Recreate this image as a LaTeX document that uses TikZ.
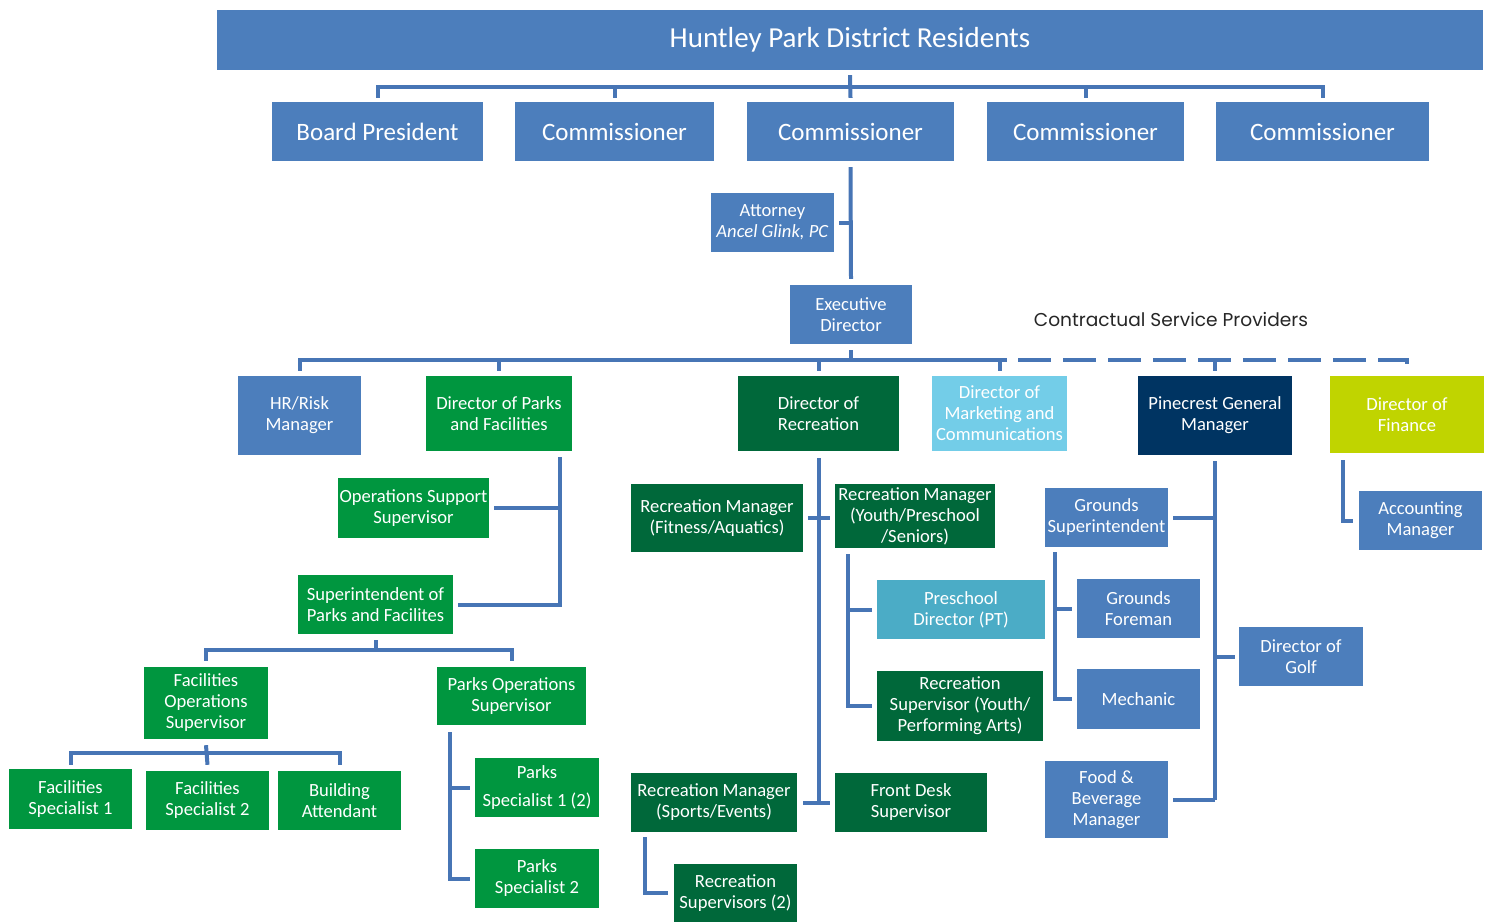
\documentclass[tikz,border=0pt]{standalone}
\usepackage{fontspec}
\setmainfont{Carlito}
\newfontfamily\cspfont{Poppins}
\definecolor{cblue}{HTML}{4C7EBC}
\definecolor{cline}{HTML}{4775B5}
\definecolor{cgreen}{HTML}{00963F}
\definecolor{cdgreen}{HTML}{00683A}
\definecolor{cnavy}{HTML}{003462}
\definecolor{clime}{HTML}{C0D400}
\definecolor{cmkt}{HTML}{73CDE8}
\definecolor{cpre}{HTML}{4BACC6}
\tikzset{
  bx/.style={draw=none, inner sep=0pt, align=center, text=white,
    font=\fontsize{18.6}{21}\selectfont},
  big/.style={font=\fontsize{25}{29}\selectfont},
  sz/.style 2 args={minimum width=#1pt, minimum height=#2pt},
  conn/.style={draw=cline, line width=4pt},
  dsh/.style={conn, dash pattern=on 33pt off 12pt},
}
\begin{document}
\begin{tikzpicture}[x=1pt,y=-1pt]
\useasboundingbox (0,0) rectangle (1493,923);
% top levels
\node[bx, fill=cblue, sz={1266}{60}, font=\fontsize{29}{34}\selectfont] (res) at (850,40) {Huntley Park District Residents};
\node[bx, fill=cblue, sz={211}{59}, big] (bp) at (377.5,131.5) {Board President};
\node[bx, fill=cblue, sz={199}{59}, big] (c1) at (614.5,131.5) {Commissioner};
\node[bx, fill=cblue, sz={207}{59}, big] (c2) at (850.5,131.5) {Commissioner};
\node[bx, fill=cblue, sz={197}{59}, big] (c3) at (1085.5,131.5) {Commissioner};
\node[bx, fill=cblue, sz={213}{59}, big] (c4) at (1322.5,131.5) {Commissioner};
\node[bx, fill=cblue, sz={123}{59}] (att) at (772.5,222.5) {Attorney\\\textit{Ancel Glink, PC}};
\node[bx, fill=cblue, sz={122}{59}] (ed) at (851,314.5) {Executive\\Director};
\node[font=\cspfont\fontsize{18.6}{22}\selectfont, text=black!85, inner sep=0pt] (csp) at (1171,320) {Contractual Service Providers};
% directors
\node[bx, fill=cblue, sz={123}{79}] (hr) at (299.5,415.5) {HR/Risk\\Manager};
\node[bx, fill=cgreen, sz={146}{75}] (dpf) at (499,413.5) {Director of Parks\\and Facilities};
\node[bx, fill=cdgreen, sz={161}{75}] (drec) at (818.5,413.5) {Director of\\Recreation};
\node[bx, fill=cmkt, sz={135}{75}] (dmkt) at (999.5,413.5) {Director of\\Marketing and\\Communications};
\node[bx, fill=cnavy, sz={154}{79}] (pgm) at (1215,415.5) {Pinecrest General\\Manager};
\node[bx, fill=clime, sz={154}{77}] (dfin) at (1407,414.5) {Director of\\Finance};
% parks & facilities
\node[bx, fill=cgreen, sz={151}{60}] (oss) at (413.5,508) {Operations Support\\Supervisor};
\node[bx, fill=cgreen, sz={155}{59}] (spf) at (375.5,604.5) {Superintendent of\\Parks and Facilites};
\node[bx, fill=cgreen, sz={124}{72}] (fos) at (206,703) {Facilities\\Operations\\Supervisor};
\node[bx, fill=cgreen, sz={149}{58}] (pos) at (511.5,696) {Parks Operations\\Supervisor};
\node[bx, fill=cgreen, sz={123}{60}] (fs1) at (70.5,799) {Facilities\\Specialist 1};
\node[bx, fill=cgreen, sz={123}{59}] (fs2) at (207.5,800.5) {Facilities\\Specialist 2};
\node[bx, fill=cgreen, sz={123}{59}] (ba) at (339.5,800.5) {Building\\Attendant};
\node[bx, fill=cgreen, sz={124}{59}, font=\fontsize{18.6}{28}\selectfont] (ps1) at (537,787.5) {Parks\\Specialist 1 (2)};
\node[bx, fill=cgreen, sz={124}{59}] (ps2) at (537,878.5) {Parks\\Specialist 2};
% recreation
\node[bx, fill=cdgreen, sz={172}{68}] (rmf) at (717,518) {Recreation Manager\\(Fitness/Aquatics)};
\node[bx, fill=cdgreen, sz={160}{64}] (rmy) at (915,516) {Recreation Manager\\(Youth/Preschool\\/Seniors)};
\node[bx, fill=cpre, sz={168}{59}] (pd) at (961,609.5) {Preschool\\Director (PT)};
\node[bx, fill=cdgreen, sz={166}{70}] (rsy) at (960,706) {Recreation\\Supervisor (Youth/\\Performing Arts)};
\node[bx, fill=cdgreen, sz={166}{59}] (rms) at (714,802.5) {Recreation Manager\\(Sports/Events)};
\node[bx, fill=cdgreen, sz={152}{59}] (fds) at (911,802.5) {Front Desk\\Supervisor};
\node[bx, fill=cdgreen, sz={123}{58}] (rs2) at (735.5,893) {Recreation\\Supervisors (2)};
% pinecrest
\node[bx, fill=cblue, sz={123}{59}] (gs) at (1106.5,517.5) {Grounds\\Superintendent};
\node[bx, fill=cblue, sz={123}{59}] (gf) at (1138.5,608.5) {Grounds\\Foreman};
\node[bx, fill=cblue, sz={123}{60}] (mech) at (1138.5,699) {Mechanic};
\node[bx, fill=cblue, sz={124}{59}] (dog) at (1301,656.5) {Director of\\Golf};
\node[bx, fill=cblue, sz={123}{77}] (fb) at (1106.5,799.5) {Food \&\\Beverage\\Manager};
\node[bx, fill=cblue, sz={123}{59}] (am) at (1420.5,520.5) {Accounting\\Manager};
% ---------- connectors ----------
\coordinate (bus1) at (850,87);
\draw[conn] ([yshift=-5pt]res.south) -- ([yshift=4pt]c2.north);
\draw[conn] ([yshift=4pt]bp.north) |- (bus1) -| ([yshift=4pt]c4.north);
\draw[conn] ([yshift=4pt]c1.north) -- (c1.north |- bus1);
\draw[conn] ([yshift=4pt]c3.north) -- (c3.north |- bus1);
\draw[conn] ([yshift=-6pt]c2.south) -- ([yshift=6pt]ed.north);
\draw[conn] ([xshift=5pt]att.east) -- (att.east -| c2.south);
% main bus
\coordinate (bus2) at (851,360);
\coordinate (busend) at (1007,360);
\coordinate (dshstart) at (1018,360);
\draw[conn] ([yshift=-6pt]ed.south) -- (bus2);
\draw[conn] ([yshift=5pt]hr.north) |- (bus2) -- (busend);
\draw[conn] ([yshift=5pt]dpf.north) -- (dpf.north |- bus2);
\draw[conn] ([yshift=5pt]drec.north) -- (drec.north |- bus2);
\draw[conn] ([yshift=5pt]dmkt.north) -- (dmkt.north |- bus2);
\draw[dsh] (dshstart) -| ([yshift=8pt]dfin.north);
\draw[conn] ([yshift=5pt]pgm.north) -- (pgm.north |- bus2);
% parks & facilities
\coordinate (dpfT) at (560,457);
\draw[conn] (dpfT) |- ([xshift=5pt]spf.east);
\draw[conn] ([xshift=5pt]oss.east) -- (oss.east -| dpfT);
\coordinate (b3) at (375.5,650);
\draw[conn] ([yshift=-6pt]spf.south) -- (b3);
\draw[conn] ([yshift=6pt]fos.north) |- (b3) -| ([yshift=6pt]pos.north);
\coordinate (b4) at (206,753);
\draw[conn] ([yshift=-6pt]fos.south) -- ([yshift=6pt]fs2.north);
\draw[conn] ([yshift=4pt]fs1.north) |- (b4) -| ([yshift=6pt]ba.north);
\coordinate (posT) at (450,732);
\draw[conn] (posT) |- ([xshift=-5pt]ps2.west);
\draw[conn] ([xshift=-5pt]ps1.west) -- (ps1.west -| posT);
% recreation
\draw[conn] ([yshift=-7pt]drec.south) -- (drec.south |- rms.east);
\draw[conn] ([xshift=5pt]rmf.east) -- ([xshift=-5pt]rmf.east -| rmy.west);
\draw[conn] ([xshift=6pt]rms.east) -- ([xshift=-5pt]rms.east -| fds.west);
\coordinate (rmyT) at (848,554);
\draw[conn] (rmyT) |- ([xshift=-5pt]rsy.west);
\draw[conn] ([xshift=-5pt]pd.west) -- (pd.west -| rmyT);
\coordinate (rmsT) at (645,837);
\draw[conn] (rmsT) |- ([xshift=-6pt]rs2.west);
% pinecrest
\draw[conn] ([yshift=-6pt]pgm.south) -- (pgm.south |- fb.east);
\draw[conn] ([xshift=5pt]gs.east) -- (gs.east -| pgm.south);
\draw[conn] ([xshift=5pt]fb.east) -- (fb.east -| pgm.south);
\draw[conn] ([xshift=-4pt]dog.west) -- (dog.west -| pgm.south);
\coordinate (gsT) at (1055,552);
\draw[conn] (gsT) |- ([xshift=-5pt]mech.west);
\draw[conn] ([xshift=-5pt]gf.west) -- (gf.west -| gsT);
% finance
\coordinate (finT) at (1343,460);
\draw[conn] (finT) |- ([xshift=-6pt]am.west);
\end{tikzpicture}
\end{document}
